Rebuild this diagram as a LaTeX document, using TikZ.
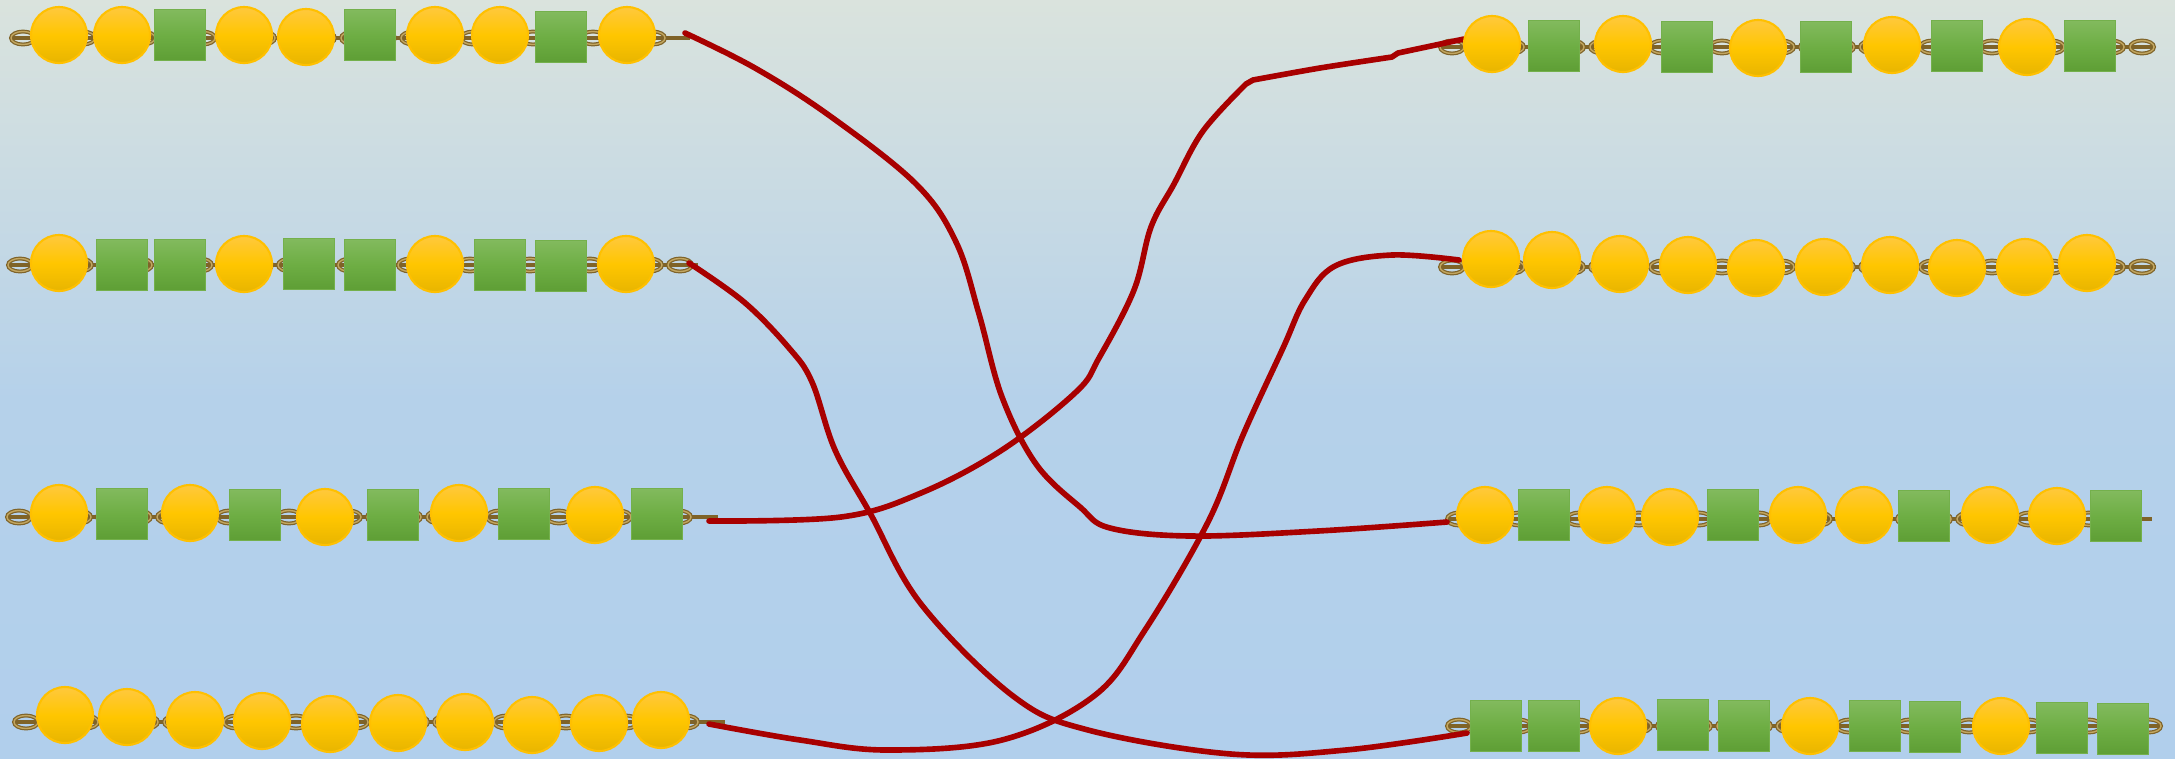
\documentclass[tikz,border=0pt]{standalone}
\usetikzlibrary{calc}
\definecolor{SkyTop}{HTML}{DAE3DD}
\definecolor{SkyMid}{HTML}{B5D1EA}
\definecolor{SkyLow}{HTML}{B1CFEC}
\definecolor{BallTop}{HTML}{FFC83D}
\definecolor{BallMid}{HTML}{FFC600}
\definecolor{BallLow}{HTML}{E8B500}
\definecolor{BallEdge}{HTML}{FFC000}
\definecolor{BlockTop}{HTML}{82BA5E}
\definecolor{BlockMid}{HTML}{6EAE44}
\definecolor{BlockLow}{HTML}{5E9E35}
\definecolor{BlockEdge}{HTML}{74B04C}
\definecolor{ChainBrown}{HTML}{7F6328}
\definecolor{ChainLight}{HTML}{C2A660}
\definecolor{Rope}{HTML}{A80000}
\tikzset{ball/.style={circle,draw=BallEdge,line width=0.6pt,top color=BallTop,bottom color=BallLow,middle color=BallMid,minimum size=5.6mm,inner sep=0pt},block/.style={rectangle,draw=BlockEdge,line width=0.5pt,top color=BlockTop,bottom color=BlockLow,middle color=BlockMid,minimum width=5.1mm,minimum height=5.1mm,inner sep=0pt},link/.style={draw=ChainBrown,line width=1.1pt,postaction={draw=ChainLight,line width=0.4pt}},chainbar/.style={draw=ChainBrown,line width=1.3pt},rope/.style={draw=Rope,line width=1.6pt,line cap=round,line join=round}}
\newcommand{\chainrow}[3]{%
  \draw[chainbar] (#1,#3) -- (#2,#3);
  \pgfmathtruncatemacro{\nlinks}{(#2-#1-24)/30}
  \foreach \k in {0,...,\nlinks} \draw[link] ({#1+12+30*\k},#3) ellipse (12 and 6.5);
}

\begin{document}
\begin{tikzpicture}[x=0.1mm,y=-0.1mm]
\useasboundingbox (0,0) rectangle (2175,758);
\shade[top color=SkyTop,bottom color=SkyMid] (0,0) rectangle (2175,400);
\shade[top color=SkyMid,bottom color=SkyLow] (0,400) rectangle (2175,758);
% chains
\chainrow{11}{690}{38}
\chainrow{8}{698}{265}
\chainrow{7}{718}{517}
\chainrow{14}{725}{722}
\chainrow{1440}{2154}{47}
\chainrow{1440}{2156}{267}
\chainrow{1447}{2152}{519}
\chainrow{1447}{2162}{726}
% rope ends
\coordinate (L1-hook) at (685,33);
\coordinate (L2-hook) at (689,263);
\coordinate (L3-hook) at (709,521);
\coordinate (L4-hook) at (709,724);
\coordinate (R1-hook) at (1464,39);
\coordinate (R2-hook) at (1459,260);
\coordinate (R3-hook) at (1447,522);
\coordinate (R4-hook) at (1467,733);
% ropes
\draw[rope] plot[smooth,tension=0.6] coordinates {(L1-hook) (755,68) (830,116) (916,184) (956,242) (979,314) (1002,397) (1036,464) (1080,507) (1110,528) (1190,536) (1318,531) (R3-hook)};
\draw[rope] plot[smooth,tension=0.6] coordinates {(L2-hook) (744,302) (789,348) (812,382) (835,450) (870,513) (921,604) (1013,696) (1088,730) (1231,754) (1346,750) (R4-hook)};
\draw[rope] plot[smooth,tension=0.6] coordinates {(L3-hook) (841,517) (921,493) (1002,450) (1076,392) (1099,358) (1134,290) (1151,227) (1174,184) (1203,131) (1246,84)} -- plot[smooth] coordinates {(1253,80) (1320,68) (1392,57)} -- (1398,53) -- (R1-hook);
\draw[rope] plot[smooth,tension=0.6] coordinates {(L4-hook) (800,740) (887,750) (1002,740) (1094,696) (1145,630) (1208,522) (1243,435) (1283,348) (1305,300) (1335,266) (1392,255) (R2-hook)};
% beads, left
\foreach \kind/\x/\y [count=\i] in {ball/59/35,ball/122/35,block/180/35,ball/244/35,ball/306/37,block/370/35,ball/435/35,ball/500/35,block/561/37,ball/627/35}
  \node[\kind] (L1-\i) at (\x,\y) {};
\foreach \kind/\x/\y [count=\i] in {ball/59/263,block/122/265,block/180/265,ball/244/264,block/309/264,block/370/265,ball/435/264,block/500/265,block/561/266,ball/626/264}
  \node[\kind] (L2-\i) at (\x,\y) {};
\foreach \kind/\x/\y [count=\i] in {ball/59/513,block/122/514,ball/190/513,block/255/515,ball/325/517,block/393/515,ball/459/513,block/524/514,ball/595/515,block/657/514}
  \node[\kind] (L3-\i) at (\x,\y) {};
\foreach \kind/\x/\y [count=\i] in {ball/65/715,ball/127/717,ball/195/720,ball/262/721,ball/330/724,ball/398/723,ball/465/722,ball/532/725,ball/599/723,ball/661/720}
  \node[\kind] (L4-\i) at (\x,\y) {};
% beads, right
\foreach \kind/\x/\y [count=\i] in {ball/1492/44,block/1554/46,ball/1623/44,block/1687/47,ball/1758/48,block/1826/47,ball/1892/45,block/1957/46,ball/2027/47,block/2090/46}
  \node[\kind] (R1-\i) at (\x,\y) {};
\foreach \kind/\x/\y [count=\i] in {ball/1491/259,ball/1552/260,ball/1620/264,ball/1688/265,ball/1756/268,ball/1824/267,ball/1890/265,ball/1957/268,ball/2025/267,ball/2087/263}
  \node[\kind] (R2-\i) at (\x,\y) {};
\foreach \kind/\x/\y [count=\i] in {ball/1485/515,block/1544/515,ball/1607/515,ball/1670/517,block/1733/515,ball/1798/515,ball/1864/515,block/1924/516,ball/1990/515,ball/2057/516,block/2116/516}
  \node[\kind] (R3-\i) at (\x,\y) {};
\foreach \kind/\x/\y [count=\i] in {block/1496/726,block/1554/726,ball/1618/726,block/1683/725,block/1744/726,ball/1810/726,block/1875/726,block/1935/727,ball/2001/726,block/2062/728,block/2123/729}
  \node[\kind] (R4-\i) at (\x,\y) {};
\end{tikzpicture}
\end{document}
